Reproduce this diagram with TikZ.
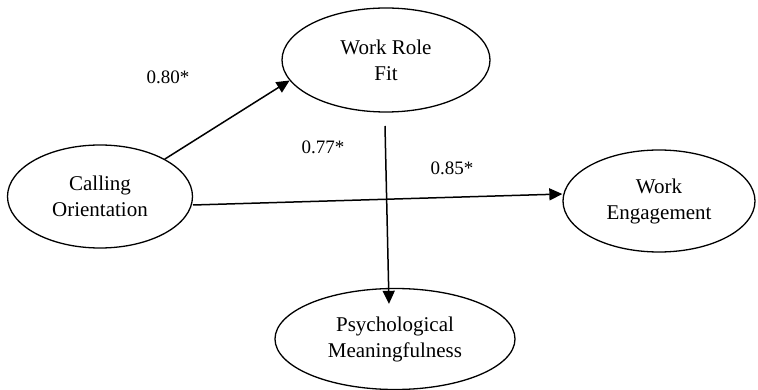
\documentclass[tikz,border=0pt]{standalone}
\usepackage{fontspec}
\setmainfont{Liberation Serif}
\usetikzlibrary{shapes.geometric,arrows.meta}
\begin{document}
\begin{tikzpicture}[x=1pt,y=-1pt,
  latent/.style={draw,ellipse,line width=1.3pt,inner sep=0pt,align=center,
    font=\fontsize{21}{26}\selectfont},
  path/.style={line width=1.5pt,-{Triangle[length=13pt,width=12pt]}},
  coef/.style={font=\fontsize{19}{22}\selectfont}]
\useasboundingbox (0,0) rectangle (758,390);
\node[latent,minimum width=185pt,minimum height=103pt] (co) at (100,196.5) {Calling\\Orientation};
\node[latent,minimum width=208pt,minimum height=104pt] (wrf) at (386,60) {Work Role\\Fit};
\node[latent,minimum width=192pt,minimum height=102pt] (we) at (659,201) {Work\\Engagement};
\node[latent,minimum width=240pt,minimum height=101pt] (pm) at (395,339) {Psychological\\Meaningfulness};
\coordinate (v1) at (385,126);
\coordinate (h1) at (193,205);
\draw[path] (co.30) -- (wrf.192);
\draw[path] (v1) -- ([xshift=-6pt,yshift=-16pt]pm.north);
\draw[path] (h1) -- ([yshift=7pt]we.west);
\node[coef] (c1) at (168,77) {0.80*};
\node[coef] (c2) at (323,147) {0.77*};
\node[coef] (c3) at (452,168) {0.85*};
\end{tikzpicture}
\end{document}
